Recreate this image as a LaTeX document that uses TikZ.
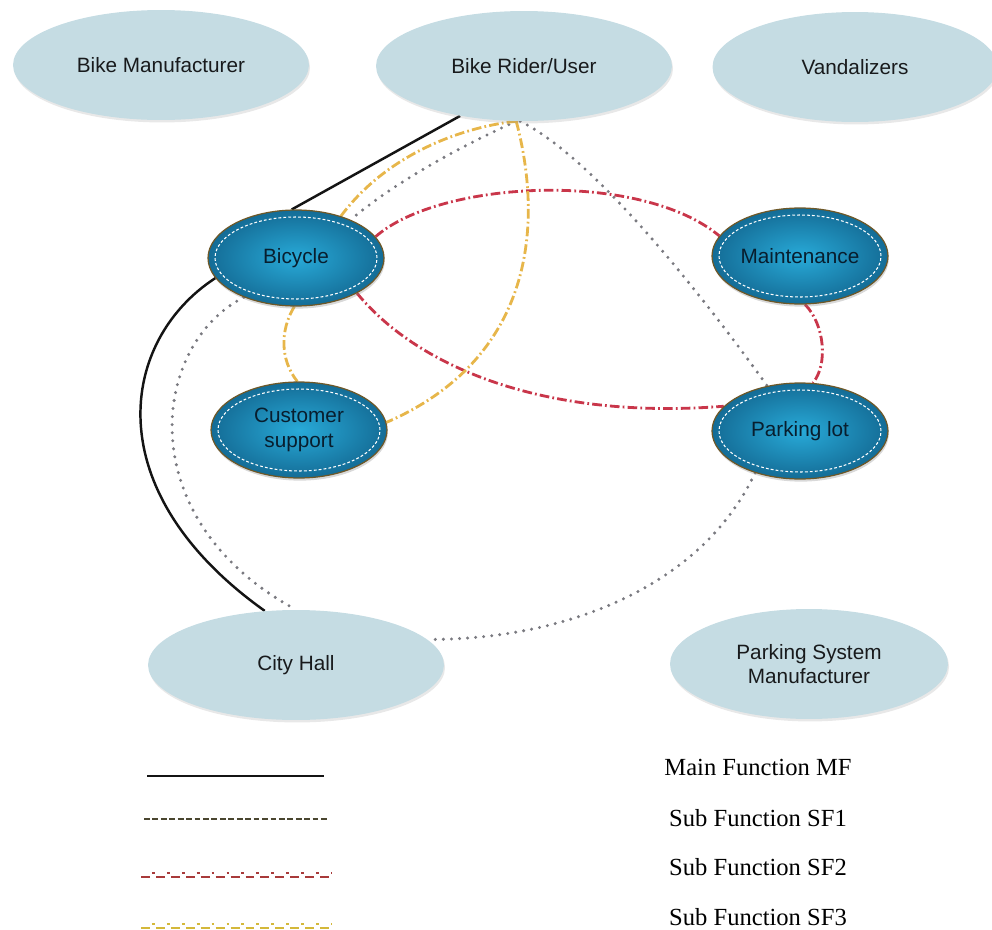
\documentclass[tikz,border=0pt]{standalone}
\usepackage{fontspec}
\setmainfont{Liberation Serif}
\newfontfamily\arialfont{Liberation Sans}
\usetikzlibrary{shapes.geometric,shadows}

\definecolor{actorfill}{RGB}{197,220,227}
\definecolor{actortext}{RGB}{24,26,28}
\definecolor{bluelight}{RGB}{40,170,216}
\definecolor{bluedark}{RGB}{20,108,150}
\definecolor{rimbrown}{RGB}{110,88,40}
\definecolor{navytext}{RGB}{8,30,46}
\definecolor{mfblack}{RGB}{20,20,20}
\definecolor{sfgray}{RGB}{122,122,128}
\definecolor{sfred}{RGB}{201,54,74}
\definecolor{sfyellow}{RGB}{231,182,74}
\definecolor{legolive}{RGB}{74,70,48}
\definecolor{legred}{RGB}{168,58,58}
\definecolor{legyellow}{RGB}{212,184,58}

\pgfdeclarelayer{bg}
\pgfsetlayers{bg,main}

\tikzset{
  actor/.style={ellipse, fill=actorfill, inner sep=0pt,
    minimum width=5.92cm, minimum height=2.2cm, align=center,
    font=\arialfont\fontsize{11.8}{14}\selectfont, text=actortext,
    drop shadow={opacity=0.18, shadow xshift=0.6pt, shadow yshift=-1.4pt}},
  func/.style={ellipse, draw=rimbrown, line width=0.7pt,
    inner color=bluelight, outer color=bluedark, inner sep=0pt,
    minimum width=3.52cm, minimum height=1.92cm, align=center,
    font=\arialfont\fontsize{11.8}{14}\selectfont, text=navytext,
    drop shadow={opacity=0.3, shadow xshift=0.5pt, shadow yshift=-1.5pt},
    path picture={\draw[white, line width=0.6pt, dash pattern=on 1.6pt off 1.2pt]
      (path picture bounding box.center) ellipse [x radius=1.62cm, y radius=0.82cm];}},
  mainfn/.style={draw=mfblack, line width=1.4pt},
  subone/.style={draw=sfgray, line width=1.9pt, line cap=round, dash pattern=on 0pt off 4.6pt},
  subtwo/.style={draw=sfred, line width=1.6pt, dash pattern=on 5.5pt off 1.8pt on 1pt off 1.8pt},
  subthree/.style={draw=sfyellow, line width=1.6pt, dash pattern=on 5.5pt off 1.8pt on 1pt off 1.8pt},
  legtext/.style={font=\fontsize{14}{16}\selectfont, text=black}
}

\begin{document}
\begin{tikzpicture}[x=0.02cm, y=-0.02cm]
\useasboundingbox (0,0) rectangle (992,930);

% stakeholders
\node[actor] (maker)   at (161,65)  {Bike Manufacturer};
\node[actor] (rider)   at (524,66)  {Bike Rider/User};
\node[actor, minimum width=5.7cm] (vandal) at (855,67) {Vandalizers};
\node[actor] (city)    at (296,665) {City Hall};
\node[actor, minimum width=5.56cm] (psm) at (809,664) {Parking System\\Manufacturer};

% system functions
\node[func] (bike)     at (296,258) {Bicycle};
\node[func] (maint)    at (800,256) {Maintenance};
\node[func] (support)  at (299,430) {Customer\\support};
\node[func] (parking)  at (800,431) {Parking lot};

\begin{pgfonlayer}{bg}
  % main function
  \draw[mainfn] (rider.218) -- (bike.95);
  \draw[mainfn] (bike.194) .. controls (120,340) and (95,490) .. (city.120);

  % sub function SF1
  \draw[subone] (rider.262) .. controls (470,142) and (400,178) .. (bike.35);
  \draw[subone] (rider.266) .. controls (600,160) and (720,320) .. (parking.126);
  \draw[subone] (bike.217) .. controls (150,345) and (130,520) .. (city.90);
  \draw[subone] (parking.223) .. controls (700,590) and (560,640) .. (city.11.6);

  % sub function SF2
  \draw[subtwo] (bike.15) .. controls (440,180) and (640,170) .. (maint.166);
  \draw[subtwo] (bike.330) .. controls (420,370) and (550,420) .. (parking.162);
  \draw[subtwo] (maint.276) .. controls (825,325) and (828,365) .. (parking.75);

  % sub function SF3
  \draw[subthree] (rider.262) .. controls (470,126) and (390,150) .. (bike.43);
  \draw[subthree] (rider.262) .. controls (545,230) and (530,360) .. (support.5);
  \draw[subthree] (bike.268) .. controls (280,330) and (280,360) .. (support.92);
\end{pgfonlayer}

% legend
\coordinate (mfa) at (147,776);  \coordinate (mfb) at (324,776);
\coordinate (s1a) at (144,819);  \coordinate (s1b) at (328,819);
\coordinate (s2a) at (141,877);  \coordinate (s2b) at (332,877);
\coordinate (s2c) at (141,873);  \coordinate (s2d) at (332,873);
\coordinate (s3a) at (141,928);  \coordinate (s3b) at (332,928);
\coordinate (s3c) at (141,924);  \coordinate (s3d) at (332,924);

\draw[draw=mfblack, line width=1.4pt] (mfa) -- (mfb);
\draw[draw=legolive, line width=1.7pt, dash pattern=on 3.3pt off 1.5pt] (s1a) -- (s1b);
\draw[draw=legred, line width=1.4pt, dash pattern=on 5.1pt off 3.4pt] (s2a) -- (s2b);
\draw[draw=legred, line width=1.7pt, dash pattern=on 1.6pt off 6.9pt, dash phase=2.3pt] (s2c) -- (s2d);
\draw[draw=legyellow, line width=1.4pt, dash pattern=on 5.1pt off 3.4pt] (s3a) -- (s3b);
\draw[draw=legyellow, line width=1.7pt, dash pattern=on 1.6pt off 6.9pt, dash phase=2.3pt] (s3c) -- (s3d);

\node[legtext] (lmf)  at (758,767) {Main Function MF};
\node[legtext] (lsf1) at (758,818) {Sub Function SF1};
\node[legtext] (lsf2) at (758,867) {Sub Function SF2};
\node[legtext] (lsf3) at (758,917) {Sub Function SF3};
\end{tikzpicture}
\end{document}
